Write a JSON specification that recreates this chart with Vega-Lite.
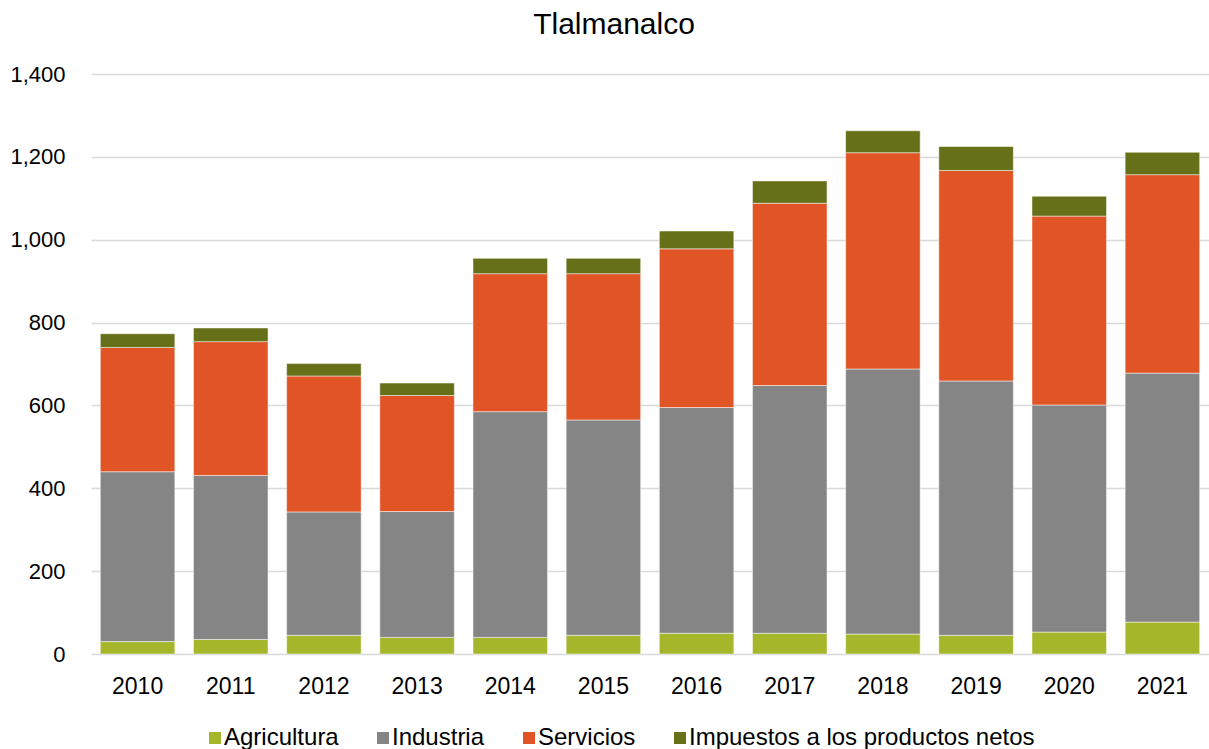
{
  "$schema": "https://vega.github.io/schema/vega-lite/v6.json",
  "width": 1118,
  "height": 580,
  "autosize": {"type": "none"},
  "padding": {"left": 91, "top": 74, "right": 0, "bottom": 95},
  "background": "#ffffff",
  "title": {
    "text": "Tlalmanalco",
    "font": "Liberation Sans",
    "fontSize": 30,
    "fontWeight": "normal",
    "color": "#000000",
    "anchor": "middle",
    "frame": "group",
    "baseline": "bottom",
    "offset": -7,
    "dx": -36
  },
  "data": {
    "values": [
      {"year": "2010", "sector": "Agricultura", "value": 30},
      {"year": "2010", "sector": "Industria", "value": 410},
      {"year": "2010", "sector": "Servicios", "value": 300},
      {"year": "2010", "sector": "Impuestos a los productos netos", "value": 33},
      {"year": "2011", "sector": "Agricultura", "value": 35},
      {"year": "2011", "sector": "Industria", "value": 396},
      {"year": "2011", "sector": "Servicios", "value": 323},
      {"year": "2011", "sector": "Impuestos a los productos netos", "value": 33},
      {"year": "2012", "sector": "Agricultura", "value": 45},
      {"year": "2012", "sector": "Industria", "value": 298},
      {"year": "2012", "sector": "Servicios", "value": 328},
      {"year": "2012", "sector": "Impuestos a los productos netos", "value": 30},
      {"year": "2013", "sector": "Agricultura", "value": 40},
      {"year": "2013", "sector": "Industria", "value": 304},
      {"year": "2013", "sector": "Servicios", "value": 280},
      {"year": "2013", "sector": "Impuestos a los productos netos", "value": 30},
      {"year": "2014", "sector": "Agricultura", "value": 40},
      {"year": "2014", "sector": "Industria", "value": 545},
      {"year": "2014", "sector": "Servicios", "value": 333},
      {"year": "2014", "sector": "Impuestos a los productos netos", "value": 37},
      {"year": "2015", "sector": "Agricultura", "value": 45},
      {"year": "2015", "sector": "Industria", "value": 520},
      {"year": "2015", "sector": "Servicios", "value": 353},
      {"year": "2015", "sector": "Impuestos a los productos netos", "value": 37},
      {"year": "2016", "sector": "Agricultura", "value": 50},
      {"year": "2016", "sector": "Industria", "value": 545},
      {"year": "2016", "sector": "Servicios", "value": 383},
      {"year": "2016", "sector": "Impuestos a los productos netos", "value": 43},
      {"year": "2017", "sector": "Agricultura", "value": 50},
      {"year": "2017", "sector": "Industria", "value": 598},
      {"year": "2017", "sector": "Servicios", "value": 440},
      {"year": "2017", "sector": "Impuestos a los productos netos", "value": 54},
      {"year": "2018", "sector": "Agricultura", "value": 48},
      {"year": "2018", "sector": "Industria", "value": 640},
      {"year": "2018", "sector": "Servicios", "value": 522},
      {"year": "2018", "sector": "Impuestos a los productos netos", "value": 53},
      {"year": "2019", "sector": "Agricultura", "value": 45},
      {"year": "2019", "sector": "Industria", "value": 614},
      {"year": "2019", "sector": "Servicios", "value": 508},
      {"year": "2019", "sector": "Impuestos a los productos netos", "value": 58},
      {"year": "2020", "sector": "Agricultura", "value": 53},
      {"year": "2020", "sector": "Industria", "value": 548},
      {"year": "2020", "sector": "Servicios", "value": 456},
      {"year": "2020", "sector": "Impuestos a los productos netos", "value": 48},
      {"year": "2021", "sector": "Agricultura", "value": 77},
      {"year": "2021", "sector": "Industria", "value": 601},
      {"year": "2021", "sector": "Servicios", "value": 479},
      {"year": "2021", "sector": "Impuestos a los productos netos", "value": 54}
    ]
  },
  "transform": [
    {"calculate": "indexof(['Agricultura','Industria','Servicios','Impuestos a los productos netos'], datum.sector)", "as": "ord"}
  ],
  "mark": {"type": "bar", "stroke": "#ffffff", "strokeWidth": 0.7, "strokeOpacity": 0.7},
  "encoding": {
    "x": {
      "field": "year",
      "type": "ordinal",
      "scale": {"paddingInner": 0.2, "paddingOuter": 0.1},
      "axis": {
        "title": null,
        "labelAngle": 0,
        "labelFont": "Liberation Sans",
        "labelFontSize": 23,
        "labelColor": "#000000",
        "labelPadding": 21,
        "ticks": false,
        "tickSize": 0,
        "domain": false
      }
    },
    "y": {
      "field": "value",
      "type": "quantitative",
      "aggregate": "sum",
      "stack": "zero",
      "scale": {"domain": [0, 1400], "nice": false},
      "axis": {
        "title": null,
        "values": [0, 200, 400, 600, 800, 1000, 1200, 1400],
        "format": ",d",
        "labelFont": "Liberation Sans",
        "labelFontSize": 22,
        "labelColor": "#000000",
        "labelPadding": 26,
        "ticks": false,
        "tickSize": 0,
        "domain": false,
        "grid": true,
        "gridColor": "#d9d9d9",
        "gridWidth": 1.3
      }
    },
    "color": {
      "field": "sector",
      "type": "nominal",
      "scale": {
        "domain": ["Agricultura", "Industria", "Servicios", "Impuestos a los productos netos"],
        "range": ["#a6b62a", "#858585", "#e05426", "#667019"]
      },
      "legend": {
        "title": null,
        "orient": "none",
        "legendX": 112,
        "legendY": 652,
        "direction": "horizontal",
        "columns": 4,
        "symbolType": "square",
        "symbolSize": 144,
        "symbolStrokeWidth": 0,
        "labelFont": "Liberation Sans",
        "labelFontSize": 24,
        "labelColor": "#000000",
        "labelOffset": -3,
        "columnPadding": 32,
        "labelLimit": 500
      }
    },
    "order": {"field": "ord", "type": "quantitative"}
  },
  "config": {
    "view": {"stroke": null}
  }
}
